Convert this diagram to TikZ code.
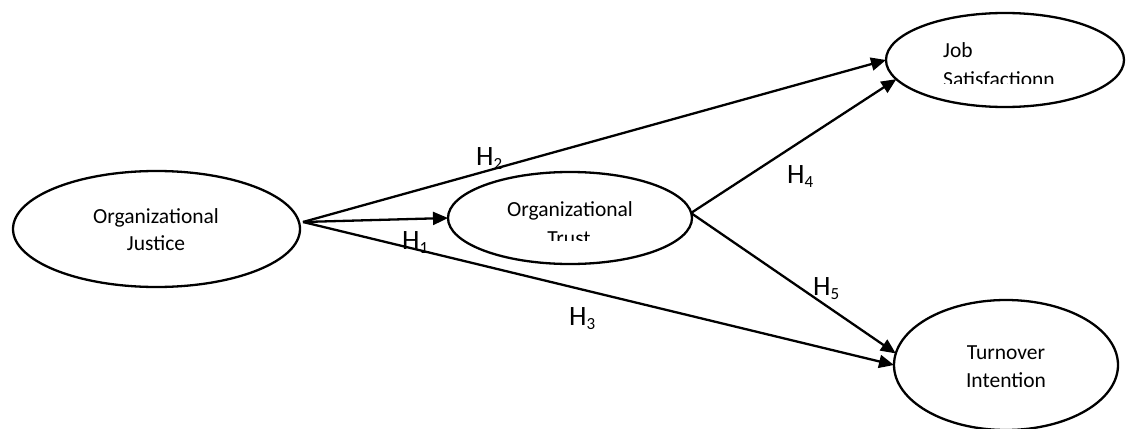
\documentclass[tikz,border=0pt]{standalone}
\usepackage{fontspec}
\setmainfont{Carlito}
\usetikzlibrary{shapes.geometric,arrows.meta}

\tikzset{
  construct/.style={draw, ellipse, line width=2.3pt, inner sep=0pt, outer sep=0pt},
  path/.style={line width=2.3pt, -{Triangle[length=15pt,width=13pt]}},
  txt/.style={anchor=base, inner sep=0pt, font=\fontsize{21.5}{27}\selectfont},
  hyp/.style={anchor=base west, inner sep=0pt, font=\fontsize{28}{30}\selectfont}
}
\newcommand{\hyplabel}[1]{H\raisebox{-4pt}{\fontsize{17}{17}\selectfont #1}}

\begin{document}
\begin{tikzpicture}[x=1pt,y=-1pt]
  \useasboundingbox (0,0) rectangle (1126,428);

  % latent constructs
  \node[construct, minimum width=287pt, minimum height=116pt] (just) at (156.5,229) {};
  \node[construct, minimum width=244pt, minimum height=92pt]  (trust) at (570,218) {};
  \node[construct, minimum width=238pt, minimum height=94pt]  (job) at (1005,60) {};
  \node[construct, minimum width=224pt, minimum height=130pt] (turn) at (1006,365) {};

  % construct names
  \node[txt] (just1) at (156,223) {Organizational};
  \node[txt] (just2) at (156,250) {Justice};
  \node[txt] (trust1) at (570,216) {Organizational};
  \begin{scope}
    \clip (440,226) rectangle (700,240);
    \node[txt] (trust2) at (569,245) {Trust};
  \end{scope}
  \node[txt, anchor=base west] (job1) at (943,58) {Job};
  \begin{scope}
    \clip (930,64) rectangle (1100,83);
    \node[txt, anchor=base west] (job2) at (943,86) {Satisfactionn};
  \end{scope}
  \node[txt] (turn1) at (1006,359) {Turnover};
  \node[txt] (turn2) at (1006,387) {Intention};

  % path origins
  \coordinate (src) at (303,222);
  \coordinate (hub) at (691,213);

  % hypothesised paths
  \draw[path] (src) -- (trust.west);
  \draw[path] (src) -- (job.west);
  \draw[path] (src) -- (turn.west);
  \draw[path] (hub) -- (job.190);
  \draw[path] (hub) -- (turn.174);

  % hypothesis labels
  \node[hyp] (h1) at (402,249) {\hyplabel{1}};
  \node[hyp] (h2) at (476,165) {\hyplabel{2}};
  \node[hyp] (h3) at (569,325) {\hyplabel{3}};
  \node[hyp] (h4) at (787,183) {\hyplabel{4}};
  \node[hyp] (h5) at (813,295) {\hyplabel{5}};
\end{tikzpicture}
\end{document}
